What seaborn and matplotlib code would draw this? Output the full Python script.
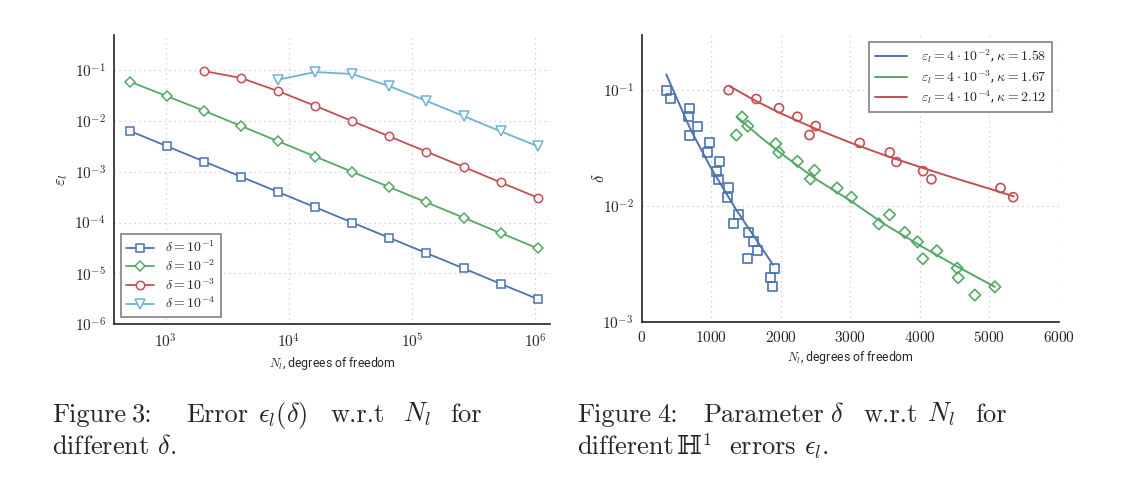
import matplotlib
matplotlib.use("Agg")
import matplotlib.pyplot as plt
import seaborn as sns

# ---------------- data ----------------
# Figure 3: error vs degrees of freedom for different delta
N_levels = [512, 1024, 2048, 4096, 8192, 16384, 32768, 65536,
            131072, 262144, 524288, 1048576]
eps_d1 = [6.4e-3, 3.2e-3, 1.6e-3, 8.0e-4, 4.0e-4, 2.0e-4, 1.0e-4, 5.0e-5,
          2.5e-5, 1.25e-5, 6.2e-6, 3.1e-6]
eps_d2 = [6.0e-2, 3.1e-2, 1.6e-2, 8.0e-3, 4.0e-3, 2.0e-3, 1.0e-3, 5.0e-4,
          2.5e-4, 1.25e-4, 6.2e-5, 3.1e-5]
N_d3 = [2048, 4096, 8192, 16384, 32768, 65536, 131072, 262144, 524288, 1048576]
eps_d3 = [0.097, 0.071, 0.039, 0.020, 0.010, 5.0e-3, 2.5e-3, 1.25e-3, 6.2e-4, 3.1e-4]
N_d4 = [8192, 16384, 32768, 65536, 131072, 262144, 524288, 1048576]
eps_d4 = [0.066, 0.093, 0.085, 0.049, 0.025, 0.0126, 6.3e-3, 3.2e-3]
left_labels = [r"$\delta = 10^{-1}$", r"$\delta = 10^{-2}$",
               r"$\delta = 10^{-3}$", r"$\delta = 10^{-4}$"]

# Figure 4: delta vs degrees of freedom for different errors
N_e2 = [350, 413, 686, 672, 806, 682, 974, 936, 1118, 1070, 1104, 1243, 1234,
        1392, 1320, 1536, 1608, 1656, 1517, 1901, 1843, 1882]
d_e2 = [0.100, 0.084, 0.070, 0.059, 0.049, 0.041, 0.035, 0.029, 0.024, 0.020,
        0.017, 0.0143, 0.0119, 0.0084, 0.0070, 0.0059, 0.0049, 0.0041, 0.0035,
        0.0029, 0.0024, 0.0020]
N_e3 = [1440, 1358, 1522, 1925, 1968, 2237, 2482, 2424, 2808, 3014, 3562, 3408,
        3782, 3965, 4243, 4042, 4536, 4550, 4790, 5078]
d_e3 = [0.0587, 0.041, 0.049, 0.0345, 0.029, 0.0243, 0.0203, 0.0171, 0.0143,
        0.0119, 0.0084, 0.0070, 0.0059, 0.0049, 0.0041, 0.0035, 0.0029, 0.0024,
        0.0017, 0.0020]
N_e4 = [1248, 1646, 1973, 2237, 2501, 2410, 3134, 3566, 3662, 4046, 4166, 5160, 5342]
d_e4 = [0.100, 0.084, 0.070, 0.059, 0.049, 0.041, 0.035, 0.029, 0.024, 0.020,
        0.017, 0.0143, 0.0119]

# fitted curves
fitN_e2 = [350, 700, 1000, 1350, 1886]
fitd_e2 = [0.137, 0.0456, 0.0209, 0.0094, 0.0031]
fitN_e3 = [1368, 1700, 2000, 2500, 3000, 3500, 4000, 4500, 5078]
fitd_e3 = [0.0587, 0.0396, 0.0285, 0.0171, 0.0111, 0.0069, 0.00456, 0.00308, 0.0020]
fitN_e4 = [1265, 1600, 2000, 2500, 3000, 3500, 4000, 4500, 5000, 5352]
fitd_e4 = [0.108, 0.0831, 0.063, 0.0464, 0.0352, 0.0273, 0.0217, 0.0174, 0.0141, 0.0121]
right_labels = [r"$\varepsilon_l = 4\cdot10^{-2}$, $\kappa = 1.58$",
                r"$\varepsilon_l = 4\cdot10^{-3}$, $\kappa = 1.67$",
                r"$\varepsilon_l = 4\cdot10^{-4}$, $\kappa = 2.12$"]

# ticks
left_xticks = [1e3, 1e4, 1e5, 1e6]
left_xticklabels = [r"$10^{3}$", r"$10^{4}$", r"$10^{5}$", r"$10^{6}$"]
left_yticks = [1e-6, 1e-5, 1e-4, 1e-3, 1e-2, 1e-1]
left_yticklabels = [r"$10^{-6}$", r"$10^{-5}$", r"$10^{-4}$",
                    r"$10^{-3}$", r"$10^{-2}$", r"$10^{-1}$"]
right_xticks = [0, 1000, 2000, 3000, 4000, 5000, 6000]
right_xticklabels = [r"$0$", r"$1000$", r"$2000$", r"$3000$",
                     r"$4000$", r"$5000$", r"$6000$"]
right_yticks = [1e-3, 1e-2, 1e-1]
right_yticklabels = [r"$10^{-3}$", r"$10^{-2}$", r"$10^{-1}$"]

# captions (justified first lines: words are placed one by one)
caption3_line1 = ["Figure", "3:", "Error", r"$\epsilon_l(\delta)$", "w.r.t", r"$N_l$", "for"]
caption3_line2 = [r"different $\delta$."]
caption4_line1 = ["Figure", "4:", "Parameter", r"$\delta$", "w.r.t", r"$N_l$", "for"]
caption4_line2 = ["different", r"errors $\epsilon_l$."]
caption4_bb = "\u210d"      # double-struck H
caption4_sup = "1"
cap3_x1 = [52.3, 132.3, 186.7, 258.3, 330.0, 403.3, 450.0]
cap3_x2 = [52.3]
cap4_x1 = [577.3, 657.3, 703.3, 830.0, 863.3, 926.7, 975.0]
cap4_x2 = [577.3, 729.3]

# ---------------- style ----------------
sns.set_style("white")
plt.rcParams["font.family"] = ["Roboto", "DejaVu Sans"]
plt.rcParams["mathtext.fontset"] = "cm"
plt.rcParams["axes.unicode_minus"] = False

blue, green, red, cyan = "#4C72B0", "#55A868", "#C44E52", "#6FB3D2"

W, H = 1148, 497
fig = plt.figure(figsize=(W / 100, H / 100), dpi=100)
axL = fig.add_axes([0.0993, 0.3481, 0.3798, 0.5815])
axR = fig.add_axes([0.5592, 0.3527, 0.3632, 0.5769])


def style_axes(ax):
    for s in ["top", "right"]:
        ax.spines[s].set_visible(False)
    for s in ["left", "bottom"]:
        ax.spines[s].set_color("#222222")
        ax.spines[s].set_linewidth(1.2)
    ax.grid(True, which="major", linestyle=(0, (1, 3)), color="#c8c8c8", linewidth=0.9)
    ax.tick_params(axis="both", which="both", length=0, pad=6, labelsize=11)
    ax.minorticks_off()


# ---------------- left panel ----------------
left_series = [
    (N_levels, eps_d1, blue, "s", 6.0),
    (N_levels, eps_d2, green, "D", 5.5),
    (N_d3, eps_d3, red, "o", 6.0),
    (N_d4, eps_d4, cyan, "v", 7.0),
]
for (xs, ys, c, m, ms), lab in zip(left_series, left_labels):
    sns.lineplot(x=xs, y=ys, ax=axL, color=c, linewidth=1.3, marker=m,
                 markersize=ms, markerfacecolor="white", markeredgecolor=c,
                 markeredgewidth=1.1, label=lab, estimator=None, sort=False)
axL.set_xscale("log")
axL.set_yscale("log")
axL.set_xlim(380, 1.32e6)
axL.set_ylim(1e-6, 0.5)
axL.set_xticks(left_xticks)
axL.set_xticklabels(left_xticklabels)
axL.set_yticks(left_yticks)
axL.set_yticklabels(left_yticklabels)
style_axes(axL)
axL.set_xlabel(r"$N_l$, degrees of freedom", fontsize=8.8, labelpad=3)
axL.set_ylabel(r"$\varepsilon_l$", fontsize=12, labelpad=3)
legL = axL.legend(loc="lower left", fontsize=10, frameon=True, fancybox=False,
                  framealpha=1, edgecolor="#808080", handlelength=2.0,
                  borderaxespad=0.5, labelspacing=0.22, handletextpad=0.8,
                  borderpad=0.4)
legL.get_frame().set_linewidth(1.2)

# ---------------- right panel ----------------
right_sets = [
    (N_e2, d_e2, fitN_e2, fitd_e2, blue, "s", 42),
    (N_e3, d_e3, fitN_e3, fitd_e3, green, "D", 34),
    (N_e4, d_e4, fitN_e4, fitd_e4, red, "o", 42),
]
for (xs, ys, fx, fy, c, m, s), lab in zip(right_sets, right_labels):
    sns.lineplot(x=fx, y=fy, ax=axR, color=c, linewidth=1.4, label=lab,
                 estimator=None, sort=False)
    sns.scatterplot(x=xs, y=ys, ax=axR, marker=m, s=s, facecolor="none",
                    edgecolor=c, linewidth=1.2, zorder=3)
axR.set_yscale("log")
axR.set_xlim(0, 6000)
axR.set_ylim(1e-3, 0.3)
axR.set_xticks(right_xticks)
axR.set_xticklabels(right_xticklabels)
axR.set_yticks(right_yticks)
axR.set_yticklabels(right_yticklabels)
style_axes(axR)
axR.set_xlabel(r"$N_l$, degrees of freedom", fontsize=8.8, labelpad=3)
axR.set_ylabel(r"$\delta$", fontsize=12, labelpad=-3)
legR = axR.legend(loc="upper right", fontsize=10, frameon=True, fancybox=False,
                  framealpha=1, edgecolor="#808080", handlelength=2.3,
                  borderaxespad=0.5, labelspacing=0.18, handletextpad=1.0,
                  borderpad=0.4)
legR.get_frame().set_linewidth(1.2)

# ---------------- captions ----------------
base1, base2 = 421.7, 454.3
for words, xs, yb in [(caption3_line1, cap3_x1, base1), (caption3_line2, cap3_x2, base2),
                      (caption4_line1, cap4_x1, base1), (caption4_line2, cap4_x2, base2)]:
    for wtxt, x in zip(words, xs):
        fig.text(x / W, 1 - yb / H, wtxt, fontsize=19, family="cmr10",
                 ha="left", va="baseline")
fig.text(676.7 / W, 1 - base2 / H, caption4_bb, fontsize=19,
         family=["DejaVu Serif", "DejaVu Sans"], ha="left", va="baseline")
fig.text(702.0 / W, 1 - (base2 - 9) / H, caption4_sup, fontsize=13,
         family="cmr10", ha="left", va="baseline")

fig.savefig("out.png", dpi=100, facecolor="white")
